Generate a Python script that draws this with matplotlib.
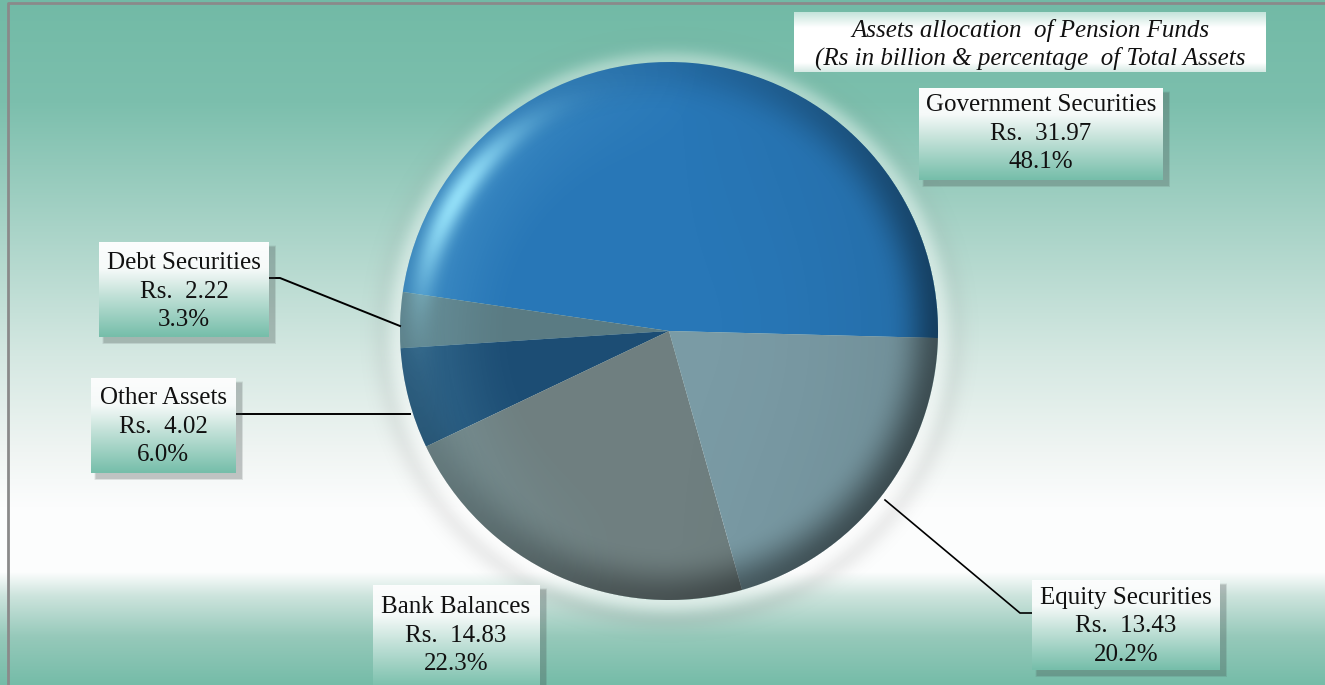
import numpy as np
import matplotlib.pyplot as plt
from matplotlib.patches import Rectangle

plt.rcParams['font.family'] = ['Liberation Serif', 'DejaVu Serif']

# asset classes, in the order they run round the pie
categories = ['Government Securities', 'Debt Securities', 'Other Assets',
              'Bank Balances', 'Equity Securities']
values = [31.97, 2.22, 4.02, 14.83, 13.43]   # Rs in billion
colors = ['#2877b7', '#5a7b83', '#1c4d74', '#6f7f80', '#7a9ba5']

title_lines = ['Assets allocation  of Pension Funds',
               '(Rs in billion & percentage  of Total Assets']

W, H = 1325, 685
CX, CY, R = 669, 331, 269


def smoothstep(a, b, x):
    t = np.clip((x - a) / (b - a), 0, 1)
    return t * t * (3 - 2 * t)


def vertical_gradient(stops, n):
    pos = np.array([s[0] for s in stops])
    cols = np.array([s[1] for s in stops], dtype=float) / 255
    t = np.linspace(0, 1, n)
    return np.stack([np.interp(t, pos, cols[:, k]) for k in range(3)], axis=-1)


fig = plt.figure(figsize=(W / 100, H / 100), dpi=100)
ax = fig.add_axes([0, 0, 1, 1])
ax.set_axis_off()

# page background: teal at the top, fading to white, teal band at the bottom
bg_stops = [(0.0, (114, 186, 166)), (0.15, (124, 191, 173)),
            (0.33, (168, 211, 199)), (0.52, (213, 232, 226)),
            (0.66, (240, 245, 243)), (0.74, (252, 253, 253)),
            (0.835, (253, 254, 254)), (0.87, (205, 228, 221)),
            (0.93, (150, 201, 186)), (1.0, (117, 188, 168))]
bg = vertical_gradient(bg_stops, H)[:, None, :] * np.ones((1, W, 1))
ax.imshow(bg, extent=(0, W, H, 0), zorder=0, interpolation='bilinear')

# soft halo and shadow round the pie
hs = R + 70
gx, gy = np.meshgrid(np.arange(-hs, hs), np.arange(-hs, hs))
rr = np.hypot(gx, gy) / R
ring = np.zeros(gx.shape + (4,))
shadow_a = 0.16 * np.exp(-((rr - 1.07) / 0.045) ** 2) * (0.6 + 0.4 * np.clip(gy / (rr * R + 1e-9), -1, 1))
shadow_a[rr < 1] = 0
ring[..., :3] = 0.55
ring[..., 3] = shadow_a
ax.imshow(ring, extent=(CX - hs, CX + hs, CY + hs, CY - hs), zorder=1)
glow = np.ones(gx.shape + (4,))
glow_a = 0.38 * np.exp(-((rr - 1.0) / 0.045) ** 2)
glow_a[rr < 1] = 0
glow[..., 3] = glow_a
ax.imshow(glow, extent=(CX - hs, CX + hs, CY + hs, CY - hs), zorder=1)

# pie (y axis is inverted, so run the wedges clockwise in data space)
wedges, _ = ax.pie(values, colors=colors, startangle=1.5, counterclock=False,
                   center=(CX, CY), radius=R,
                   wedgeprops=dict(linewidth=0, antialiased=True))
for w in wedges:
    w.set_zorder(2)

# dome shading on top of the wedges
px, py = np.meshgrid(np.arange(-R, R) + 0.5, np.arange(-R, R) + 0.5)
u, v = px / R, py / R
r = np.hypot(u, v)
ang = np.degrees(np.arctan2(-v, u))
inside = np.clip((1.0 - r) * R + 0.5, 0, 1)

dark = np.zeros(u.shape + (4,))
rim = smoothstep(0.78, 1.0, r) ** 1.6
side = 0.55 + 0.45 * np.cos(np.radians(ang + 40))
dark[..., 3] = (0.42 * rim * side + 0.10 * np.clip(u, 0, 1) * r) * inside
ax.imshow(dark, extent=(CX - R, CX + R, CY + R, CY - R), zorder=3,
          interpolation='bilinear')

light = np.zeros(u.shape + (4,))
light[..., 0], light[..., 1], light[..., 2] = 0.62, 0.92, 1.0
dang = (ang - 148 + 180) % 360 - 180
streak = np.exp(-((r - 0.93) / 0.05) ** 2) * np.exp(-(dang / 22) ** 2)
broad = 0.16 * smoothstep(0.55, 0.98, r) * np.clip(np.cos(np.radians(ang - 170)), 0, 1)
light[..., 3] = np.clip(0.75 * streak + broad, 0, 1) * inside
ax.imshow(light, extent=(CX - R, CX + R, CY + R, CY - R), zorder=3,
          interpolation='bilinear')

# leader lines
ax.plot([269, 280, 400], [278, 278, 326], color='black', lw=1.4, zorder=4)
ax.plot([236, 410], [414, 414], color='black', lw=1.4, zorder=4)
ax.plot([885, 1020, 1032], [500, 613, 613], color='black', lw=1.2, zorder=4)


def gradient_box(x0, y0, x1, y1, stops, shadow=True):
    if shadow:
        for k, a in enumerate([0.10, 0.09, 0.08, 0.06]):
            d = k + 1
            ax.add_patch(Rectangle((x0 + 5 - d / 2, y0 + 5 - d / 2),
                                   x1 - x0 + d, y1 - y0 + d,
                                   facecolor='#404848', edgecolor='none',
                                   alpha=a, zorder=5))
    grad = vertical_gradient(stops, 64)[:, None, :] * np.ones((1, 2, 1))
    ax.imshow(grad, extent=(x0, x1, y1, y0), zorder=6,
              interpolation='bilinear', aspect='auto')


box_stops = [(0.0, (252, 253, 253)), (0.28, (246, 250, 249)),
             (0.55, (196, 226, 217)), (1.0, (118, 190, 170))]
title_stops = [(0.0, (196, 228, 219)), (0.25, (255, 255, 255)),
               (0.85, (255, 255, 255)), (1.0, (214, 234, 228))]

# title
gradient_box(794, 12, 1266, 72, title_stops, shadow=False)
for line, y in zip(title_lines, [30, 58]):
    ax.text(1030, y, line, ha='center', va='center', fontsize=18,
            style='italic', color='#111111', zorder=7)

# label boxes: (left, top, right, bottom) and the centre of the text
boxes = [(919, 88, 1163, 180), (99, 242, 269, 337), (91, 378, 236, 473),
         (373, 585, 540, 690), (1032, 580, 1220, 670)]
text_x = [1041, 184, 163, 456, 1126]
text_y = [105, 263, 398, 607, 598]

total = sum(values)
for name, val, (x0, y0, x1, y1), tx, ty in zip(categories, values, boxes, text_x, text_y):
    gradient_box(x0, y0, x1, y1, box_stops)
    lines = [name, f'Rs.  {val:.2f}', f'{100 * val / total:.1f}%']
    for i, line in enumerate(lines):
        ax.text(tx, ty + i * 28.5, line, ha='center', va='center',
                fontsize=18, color='#111111', zorder=7)

# thin grey frame along the top and left edges
ax.plot([8, 8, W], [H, 3, 3], color='#8a8a8a', lw=2, zorder=8)

ax.set_xlim(0, W)
ax.set_ylim(H, 0)
ax.set_aspect('auto')
fig.savefig('out.png', dpi=100)
